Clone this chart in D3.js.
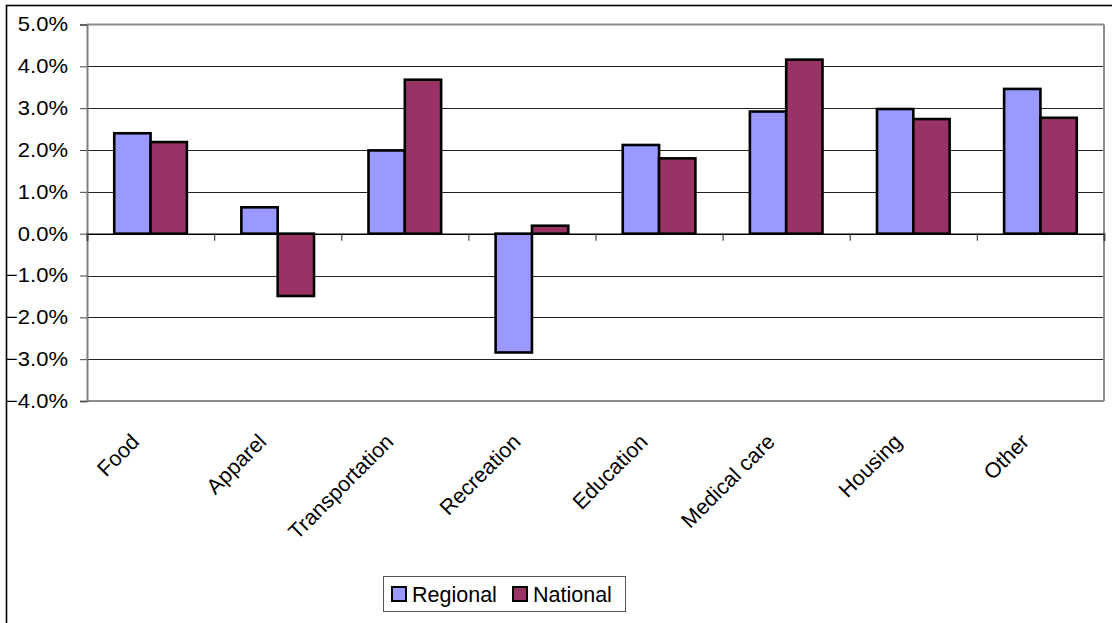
<!DOCTYPE html>
<html>
<head>
<meta charset="utf-8">
<script src="https://cdn.jsdelivr.net/npm/d3@7"></script>
<style>
html,body{margin:0;padding:0;background:#fff;}
svg{display:block;}
text{font-family:Arial,"Liberation Sans",sans-serif;fill:#000;}
</style>
</head>
<body>
<svg id="chart" width="1112" height="623"></svg>
<script>
const categories = ["Food","Apparel","Transportation","Recreation","Education","Medical care","Housing","Other"];
const seriesNames = ["Regional","National"];
const regional = [2.40, 0.63, 1.99, -2.84, 2.12, 2.92, 2.98, 3.46];
const national = [2.19, -1.49, 3.68, 0.19, 1.80, 4.16, 2.74, 2.77];
const yTicks = [-4, -3, -2, -1, 0, 1, 2, 3, 4, 5];
const colors = ["#9999FF", "#993366"];

const svg = d3.select("#chart");
const W = 1112, H = 623;
const plot = {left: 87, right: 1104, top: 24.5, bottom: 401};

// outer chart border (right/bottom edges outside view)
svg.append("rect").attr("x", 6.5).attr("y", 5.5).attr("width", W + 10).attr("height", H + 10)
  .attr("fill", "#fff").attr("stroke", "#000").attr("stroke-width", 1.6);

const x0 = d3.scaleBand().domain(categories).range([plot.left, plot.right]).paddingInner(0).paddingOuter(0);
// Excel gap width 150%: each group = 2 bars + 1.5 bar gap
const x1 = d3.scaleBand().domain(seriesNames).range([0, x0.bandwidth()]).paddingOuter(0.75).paddingInner(0);
const y = d3.scaleLinear().domain([-4, 5]).range([plot.bottom, plot.top]);

// gridlines
svg.append("g").selectAll("line").data(yTicks.filter(t => t !== -4 && t !== 5 && t !== 0)).join("line")
  .attr("x1", plot.left).attr("x2", plot.right)
  .attr("y1", d => Math.round(y(d)) + 0.5).attr("y2", d => Math.round(y(d)) + 0.5)
  .attr("stroke", "#222").attr("stroke-width", 1);

// plot border (top, right, bottom gray)
svg.append("line").attr("x1", plot.left).attr("x2", plot.right).attr("y1", plot.top).attr("y2", plot.top)
  .attr("stroke", "#8c8c8c").attr("stroke-width", 2);
svg.append("line").attr("x1", plot.right).attr("x2", plot.right).attr("y1", plot.top).attr("y2", plot.bottom)
  .attr("stroke", "#8c8c8c").attr("stroke-width", 2);
svg.append("line").attr("x1", plot.left).attr("x2", plot.right).attr("y1", plot.bottom).attr("y2", plot.bottom)
  .attr("stroke", "#8c8c8c").attr("stroke-width", 2);

// y axis
const yAxis = d3.axisLeft(y).tickValues(yTicks).tickSize(7).tickPadding(12)
  .tickFormat(d => d3.format(".1f")(d) + "%");
const gy = svg.append("g").attr("transform", `translate(${plot.left},0)`).call(yAxis);
gy.select(".domain").attr("stroke", "#808080").attr("stroke-width", 2);
gy.selectAll(".tick line").attr("stroke", "#444").attr("stroke-width", 1);
gy.selectAll(".tick text")
  .attr("x", 0)
  .attr("transform", "translate(-19,0) scale(1.1,1)")
  .attr("font-size", 20).attr("font-family", "Arial, 'Liberation Sans', sans-serif")
  .attr("fill", "#000");

// bars
const data = categories.map((c, i) => ({cat: c, vals: [regional[i], national[i]]}));
const groups = svg.append("g").selectAll("g").data(data).join("g")
  .attr("transform", d => `translate(${x0(d.cat)},0)`);
groups.selectAll("rect").data(d => d.vals.map((v, j) => ({name: seriesNames[j], v, j}))).join("rect")
  .attr("x", d => x1(d.name))
  .attr("width", x1.bandwidth())
  .attr("y", d => y(Math.max(0, d.v)))
  .attr("height", d => Math.abs(y(d.v) - y(0)))
  .attr("fill", d => colors[d.j])
  .attr("stroke", "#000").attr("stroke-width", 2.6);

// x axis (zero line) with ticks between categories
const xAxisScale = d3.scaleLinear().domain([0, categories.length]).range([plot.left, plot.right]);
const gx = svg.append("g").attr("transform", `translate(0,${y(0)})`)
  .call(d3.axisBottom(xAxisScale).tickValues(d3.range(0, categories.length + 1)).tickSize(7).tickFormat(""));
gx.select(".domain").attr("stroke", "#000").attr("stroke-width", 1.5);
gx.selectAll(".tick line").attr("stroke", "#444").attr("stroke-width", 1.2);

// category labels rotated -45
svg.append("g").selectAll("text").data(categories).join("text")
  .attr("transform", d => `translate(${x0(d) + x0.bandwidth() / 2 - 10},${443}) rotate(-45)`)
  .attr("text-anchor", "end")
  .attr("font-size", 21.5)
  .text(d => d);

// legend
const lg = svg.append("g");
lg.append("rect").attr("x", 383.5).attr("y", 576.5).attr("width", 242).attr("height", 35)
  .attr("fill", "#fff").attr("stroke", "#555").attr("stroke-width", 1);
const legendX = [392, 513];
seriesNames.forEach((n, i) => {
  lg.append("rect").attr("x", legendX[i]).attr("y", 587).attr("width", 14).attr("height", 14)
    .attr("fill", colors[i]).attr("stroke", "#000").attr("stroke-width", 2);
  lg.append("text").attr("x", legendX[i] + 20).attr("y", 601.5).attr("font-size", 21.5).text(n);
});
</script>
</body>
</html>
